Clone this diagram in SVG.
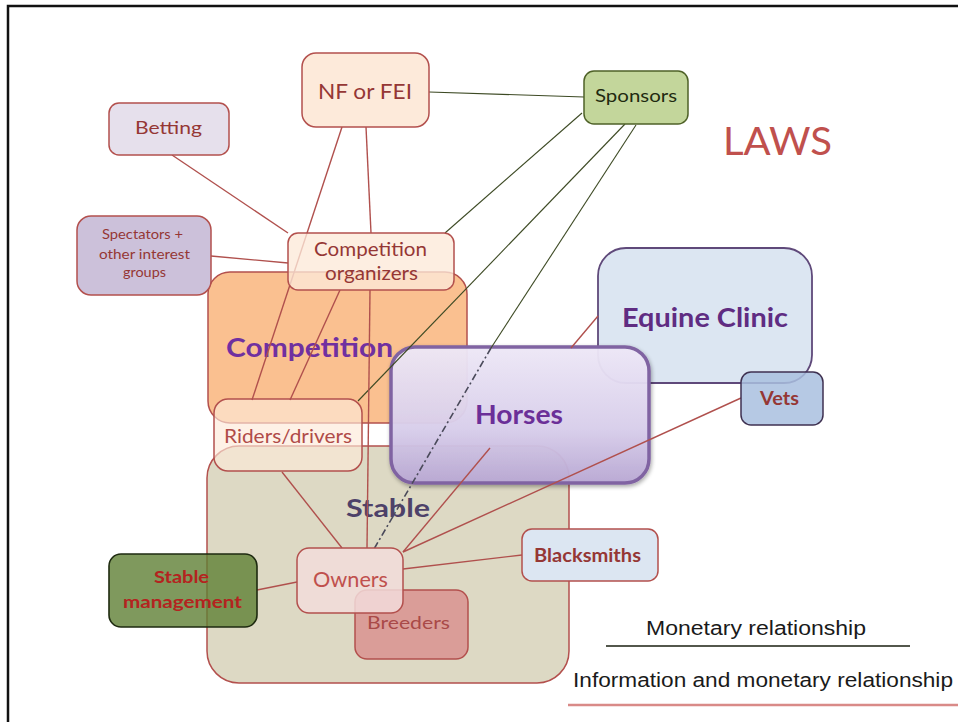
<svg xmlns="http://www.w3.org/2000/svg" width="958" height="722" viewBox="0 0 958 722">
  <defs>
    <linearGradient id="horseFill" x1="0" y1="0" x2="0" y2="1">
      <stop offset="0" stop-color="#efe9f8"/>
      <stop offset="0.6" stop-color="#d9cfec"/>
      <stop offset="1" stop-color="#b9a8d4"/>
    </linearGradient>
    <filter id="soft" x="-10%" y="-10%" width="130%" height="130%">
      <feGaussianBlur in="SourceAlpha" stdDeviation="2"/>
      <feOffset dx="1" dy="2"/>
      <feComponentTransfer><feFuncA type="linear" slope="0.35"/></feComponentTransfer>
      <feMerge><feMergeNode/><feMergeNode in="SourceGraphic"/></feMerge>
    </filter>
  </defs>
  <style>
    text { font-family: Lato, "Open Sans", "Liberation Sans", sans-serif; text-anchor: middle; }
    .lbl { fill: #953735; }
    .big { font-weight: bold; }
    .box { stroke: #b3504d; stroke-width: 1.5; }
    .money { fill: none; stroke: #3d4a24; stroke-width: 1.1; }
    .info { fill: none; stroke: #b0504d; stroke-width: 1.4; }
    .dashdot { fill: none; stroke: #4a4a5a; stroke-width: 1.6; stroke-dasharray: 7 3 2 3; }
    .legend { font-family: "Liberation Sans", Arial, sans-serif; fill: #1a1a1a; text-anchor: start; }
  </style>

  <rect width="958" height="722" fill="#ffffff"/>
  <!-- frame -->
  <path d="M8 722 V6 H958" fill="none" stroke="#111" stroke-width="2.5"/>

  <!-- large area boxes -->
  <g id="competition">
    <rect class="box" x="208" y="272" width="259" height="151" rx="22" fill="#fac090"/>
    <text class="big" x="309.5" y="357" font-size="27" fill="#7030a0" textLength="167" lengthAdjust="spacingAndGlyphs">Competition</text>
  </g>
  <g id="stable">
    <rect class="box" x="207" y="446" width="362" height="237" rx="32" fill="#ddd9c4"/>
    <text class="big" x="388" y="517" font-size="25" fill="#4d4169" textLength="84" lengthAdjust="spacingAndGlyphs">Stable</text>
  </g>
  <g id="equine-clinic">
    <rect x="598" y="248" width="214" height="135" rx="28" fill="#dce6f2" stroke="#5f497a" stroke-width="1.8"/>
    <text class="big" x="705" y="327" font-size="27" fill="#5f2c82" textLength="166" lengthAdjust="spacingAndGlyphs">Equine Clinic</text>
  </g>
  <g id="horses">
    <rect x="391" y="347" width="258" height="136" rx="24" fill="url(#horseFill)" fill-opacity="0.95" stroke="#8064a2" stroke-width="3.5" filter="url(#soft)"/>
    <text class="big" x="519" y="424" font-size="26" fill="#6b2f98" textLength="88" lengthAdjust="spacingAndGlyphs">Horses</text>
  </g>
  <g id="riders-drivers">
    <rect class="box" x="214" y="399" width="148" height="72" rx="14" fill="#fde9d9" fill-opacity="0.65"/>
    <text x="288" y="443" font-size="20" fill="#b04b48" textLength="128" lengthAdjust="spacingAndGlyphs">Riders/drivers</text>
  </g>

  <!-- relationships -->
  <g id="connectors">
    <!-- monetary -->
    <line class="money" x1="429" y1="92" x2="584" y2="97"/>
    <line class="money" x1="582" y1="113" x2="445" y2="233"/>
    <line class="money" x1="625" y1="124" x2="358" y2="401"/>
    <line class="money" x1="636" y1="125" x2="491" y2="348"/>
    <line class="dashdot" x1="491" y1="348" x2="374" y2="549"/>
    <!-- information and monetary -->
    <line class="info" x1="172" y1="155" x2="288" y2="233"/>
    <line class="info" x1="211" y1="256" x2="288" y2="263"/>
    <line class="info" x1="342" y1="127" x2="252" y2="400"/>
    <line class="info" x1="366" y1="127" x2="371" y2="233"/>
    <line class="info" x1="340" y1="290" x2="290" y2="400"/>
    <line class="info" x1="370" y1="290" x2="367" y2="548"/>
    <line class="info" x1="282" y1="472" x2="342" y2="548"/>
    <line class="info" x1="403" y1="552" x2="490" y2="448"/>
    <line class="info" x1="403" y1="552" x2="741" y2="398"/>
    <line class="info" x1="403" y1="569" x2="522" y2="555"/>
    <line class="info" x1="297" y1="582" x2="257" y2="590"/>
    <line class="info" x1="598" y1="316" x2="571" y2="348" stroke="#a8603e"/>
  </g>

  <!-- actors -->
  <g id="nf-fei">
    <rect class="box" x="302" y="53" width="127" height="74" rx="14" fill="#fdeada" stroke="#9b4a48"/>
    <text class="lbl" x="365" y="99" font-size="22" textLength="94" lengthAdjust="spacingAndGlyphs">NF or FEI</text>
  </g>
  <g id="betting">
    <rect class="box" x="109" y="103" width="120" height="52" rx="10" fill="#e6e0ec" stroke="#9b4a48"/>
    <text class="lbl" x="168.5" y="134" font-size="18" textLength="67" lengthAdjust="spacingAndGlyphs">Betting</text>
  </g>
  <g id="spectators">
    <rect class="box" x="77" y="216" width="134" height="79" rx="14" fill="#ccc1da" stroke="#9b4a48"/>
    <text class="lbl" x="142.5" y="239" font-size="12.5" textLength="81" lengthAdjust="spacingAndGlyphs">Spectators +</text>
    <text class="lbl" x="144.5" y="259" font-size="12.5" textLength="91" lengthAdjust="spacingAndGlyphs">other interest</text>
    <text class="lbl" x="144.5" y="277" font-size="12.5" textLength="43" lengthAdjust="spacingAndGlyphs">groups</text>
  </g>
  <g id="competition-organizers">
    <rect class="box" x="288" y="233" width="166" height="57" rx="10" fill="#fde9d9" fill-opacity="0.78"/>
    <text class="lbl" x="370.5" y="256" font-size="19" textLength="113" lengthAdjust="spacingAndGlyphs">Competition</text>
    <text class="lbl" x="371.5" y="280" font-size="19" textLength="93" lengthAdjust="spacingAndGlyphs">organizers</text>
  </g>
  <g id="sponsors">
    <rect x="584" y="71" width="104" height="53" rx="10" fill="#c3d69b" stroke="#4f6228" stroke-width="1.5"/>
    <text x="636" y="102" font-size="17" fill="#1f2a10" textLength="82" lengthAdjust="spacingAndGlyphs">Sponsors</text>
  </g>
  <g id="vets">
    <rect x="741" y="372" width="82" height="53" rx="10" fill="#a9c0df" fill-opacity="0.85" stroke="#3f3151" stroke-width="1.5"/>
    <text class="lbl big" x="779.5" y="405" font-size="18" textLength="39" lengthAdjust="spacingAndGlyphs">Vets</text>
  </g>
  <g id="breeders">
    <rect class="box" x="355" y="590" width="113" height="69" rx="12" fill="#d99694" fill-opacity="0.9"/>
    <text x="408.5" y="629" font-size="18" fill="#a94a48" textLength="83" lengthAdjust="spacingAndGlyphs">Breeders</text>
  </g>
  <g id="owners">
    <rect class="box" x="297" y="548" width="106" height="65" rx="12" fill="#f2dcdb" fill-opacity="0.85"/>
    <text x="350.5" y="587" font-size="21" fill="#c0504d" textLength="75" lengthAdjust="spacingAndGlyphs">Owners</text>
  </g>
  <g id="stable-management">
    <rect x="109" y="554" width="148" height="73" rx="12" fill="#5f7f35" fill-opacity="0.8" stroke="#1e2a10" stroke-width="1.6"/>
    <text class="big" x="181.5" y="583" font-size="17" fill="#b4231f" textLength="55" lengthAdjust="spacingAndGlyphs">Stable</text>
    <text class="big" x="182.5" y="608" font-size="17" fill="#b4231f" textLength="119" lengthAdjust="spacingAndGlyphs">management</text>
  </g>
  <g id="blacksmiths">
    <rect class="box" x="522" y="529" width="136" height="52" rx="10" fill="#dce6f2"/>
    <text class="lbl big" x="587.5" y="562" font-size="18" textLength="107" lengthAdjust="spacingAndGlyphs">Blacksmiths</text>
  </g>

  <!-- title -->
  <text x="777.5" y="155" font-size="39" fill="#c0504d" textLength="109" lengthAdjust="spacingAndGlyphs">LAWS</text>

  <!-- legend -->
  <g id="legend">
    <text class="legend" x="646" y="635" font-size="20" textLength="220" lengthAdjust="spacingAndGlyphs">Monetary relationship</text>
    <line x1="606" y1="646" x2="910" y2="646" stroke="#1a1f10" stroke-width="1.6"/>
    <text class="legend" x="573" y="687" font-size="20" textLength="380" lengthAdjust="spacingAndGlyphs">Information and monetary relationship</text>
    <line x1="568" y1="705" x2="958" y2="705" stroke="#d98a88" stroke-width="2.5"/>
  </g>
</svg>
